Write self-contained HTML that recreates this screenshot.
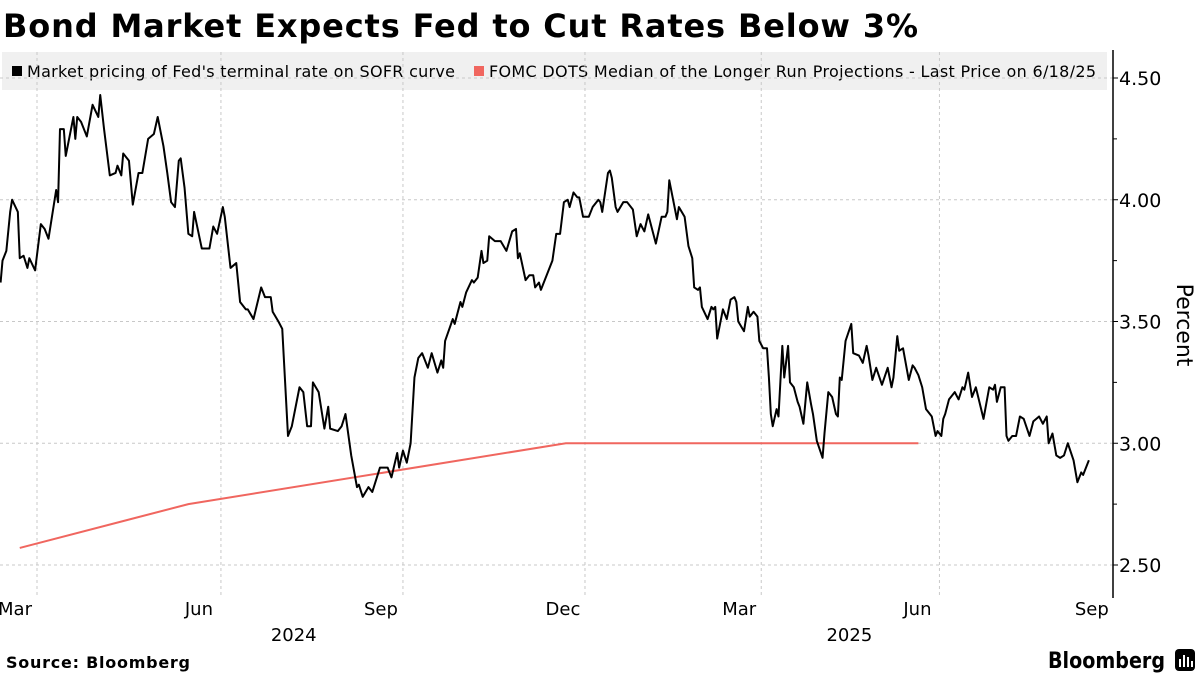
<!DOCTYPE html>
<html><head><meta charset="utf-8">
<style>
html,body{margin:0;padding:0;background:#fff;}
body{width:1200px;height:675px;overflow:hidden;font-family:"DejaVu Sans","Liberation Sans",sans-serif;}
svg text{font-family:"DejaVu Sans","Liberation Sans",sans-serif;}
</style></head>
<body>
<svg id="chart" width="1200" height="675" viewBox="0 0 1200 675" xmlns="http://www.w3.org/2000/svg">
<text x="3" y="37" font-size="32" font-weight="bold" fill="#000" textLength="915" lengthAdjust="spacing">Bond Market Expects Fed to Cut Rates Below 3%</text>
<rect x="2" y="52" width="1105" height="38" fill="#f0f0f0"/>
<g>
<rect x="12" y="66" width="10" height="10" fill="#000"/>
<text x="27" y="77" font-size="16" fill="#000" textLength="428" lengthAdjust="spacing">Market pricing of Fed's terminal rate on SOFR curve</text>
</g>
<g>
<rect x="474" y="66" width="10" height="10" fill="#f0665f"/>
<text x="489" y="77" font-size="16" fill="#000" textLength="607" lengthAdjust="spacing">FOMC DOTS Median of the Longer Run Projections - Last Price on 6/18/25</text>
</g>
<g id="grid"></g>
<g id="series"></g>
<g id="axes"></g>
<text transform="translate(1177,325) rotate(90)" font-size="22" text-anchor="middle" fill="#000">Percent</text>
<text x="6" y="668" font-size="16" font-weight="bold" fill="#000" textLength="184" lengthAdjust="spacing">Source: Bloomberg</text>
<g>
<text x="1048" y="668" font-size="22" font-weight="bold" fill="#000" textLength="117" lengthAdjust="spacingAndGlyphs">Bloomberg</text>
<rect x="1175" y="649" width="20" height="22" rx="4" fill="#000"/>
<rect x="1179" y="659" width="2" height="8" fill="#fff"/><rect x="1183" y="655" width="2" height="12" fill="#fff"/><rect x="1187" y="657" width="2" height="10" fill="#fff"/><rect x="1191" y="661" width="2" height="6" fill="#fff"/>
</g>
</svg>
<script>
// SOFR terminal-rate series (day offset, percent)
const sofrDays = [-19,-18,-16,-14,-13,-10,-9,-7,-5,-4,-1,2,4,6,10,11,12,14,15,19,20,21,23,26,29,32,33,35,38,41,42,44,45,48,50,53,55,58,61,63,66,68,70,72,74,75,77,79,81,82,86,90,92,94,97,98,101,104,106,109,110,113,117,119,122,123,126,128,131,133,137,139,141,143,144,147,150,152,153,157,159,161,164,167,168,170,173,175,179,183,185,188,189,191,193,195,197,199,201,204,206,209,211,212,213,217,218,221,222,224,227,228,230,232,233,235,236,239,242,245,248,250,251,252,255,257,259,260,262,263,266,269,271,273,275,277,278,280,282,283,285,288,290,293,294,295,298,299,300,302,303,306,308,311,313,315,317,319,323,326,328,329,330,334,335,338,340,342,343,345,346,347,350,352,353,354,355,358,360,362,364,365,366,369,371,372,374,376,377,379,381,382,383,384,386,387,389,390,392,393,395,397,398,400,402,404,405,407,410,411,413,415,417,418,419,420,422,425,426,429,431,433,434,436,438,441,444,446,447,449,450,452,455,457,458,460,462,464,466,467,469,470,472,473,474,476,479,481,483,484,486,488,490,494,497,499,500,501,503,505,506,507,509,511,513,515,518,520,523,525,527,528,530,532,534,536,538,541,543,545,546,549];
const sofrValues = [3.66,3.75,3.79,3.95,4.00,3.95,3.76,3.77,3.72,3.76,3.71,3.90,3.88,3.84,4.04,3.99,4.29,4.29,4.18,4.34,4.25,4.34,4.32,4.26,4.39,4.34,4.43,4.29,4.10,4.11,4.14,4.10,4.19,4.16,3.98,4.11,4.11,4.25,4.27,4.34,4.22,4.11,3.99,3.97,4.16,4.17,4.05,3.86,3.85,3.95,3.80,3.80,3.89,3.86,3.97,3.93,3.72,3.74,3.58,3.55,3.55,3.51,3.64,3.60,3.60,3.54,3.50,3.47,3.03,3.07,3.23,3.21,3.07,3.07,3.25,3.21,3.06,3.15,3.06,3.05,3.07,3.12,2.95,2.82,2.83,2.78,2.82,2.80,2.90,2.90,2.86,2.96,2.90,2.97,2.92,3.00,3.27,3.35,3.37,3.31,3.37,3.29,3.34,3.31,3.42,3.51,3.49,3.58,3.56,3.62,3.67,3.66,3.68,3.79,3.74,3.75,3.85,3.83,3.83,3.79,3.87,3.88,3.76,3.78,3.67,3.69,3.69,3.64,3.66,3.63,3.69,3.75,3.86,3.86,3.99,4.00,3.97,4.03,4.01,4.01,3.93,3.93,3.97,4.00,3.99,3.95,4.11,4.12,4.09,3.97,3.95,3.99,3.99,3.96,3.85,3.90,3.87,3.94,3.82,3.93,3.93,3.95,4.08,3.92,3.97,3.93,3.81,3.76,3.64,3.63,3.64,3.56,3.51,3.56,3.55,3.56,3.43,3.55,3.51,3.59,3.60,3.58,3.50,3.46,3.56,3.52,3.54,3.52,3.42,3.39,3.39,3.27,3.12,3.07,3.14,3.11,3.40,3.27,3.40,3.25,3.23,3.17,3.15,3.08,3.25,3.16,3.12,3.01,2.94,3.04,3.21,3.19,3.12,3.11,3.27,3.26,3.42,3.49,3.37,3.36,3.33,3.40,3.36,3.26,3.31,3.24,3.31,3.23,3.27,3.44,3.38,3.39,3.26,3.32,3.31,3.28,3.23,3.14,3.12,3.11,3.03,3.05,3.03,3.10,3.12,3.18,3.21,3.18,3.23,3.22,3.29,3.19,3.23,3.10,3.23,3.22,3.24,3.17,3.23,3.23,3.03,3.01,3.03,3.03,3.11,3.10,3.03,3.09,3.11,3.08,3.11,3.00,3.04,2.95,2.94,2.95,3.00,2.93,2.84,2.88,2.87,2.93];
// FOMC dots median series
const fomcDays = [-9,79,276,460];
const fomcValues = [2.57,2.75,3.00,3.00];
// Axis ticks
const xTickDays = [0,96,191,286,378,471,562];
const xTickLabels = ["Mar","Jun","Sep","Dec","Mar","Jun","Sep"];
const yearLabels = ["2024","2025"];
const yearLabelDays = [134,424];
const yTicks = [2.5,3.0,3.5,4.0,4.5];
const yTickLabels = ["2.50","3.00","3.50","4.00","4.50"];
const yMinorTicks = [2.75,3.25,3.75,4.25];

const NS="http://www.w3.org/2000/svg";
const X0=37, PXD=1.916, YTOP=78, YBOT=565, VTOP=4.5, VBOT=2.5, AXISX=1113;
function xs(d){return X0+d*PXD;}
function ys(v){return YTOP+(VTOP-v)/(VTOP-VBOT)*(YBOT-YTOP);}
function mk(tag,attrs,parent){const e=document.createElementNS(NS,tag);for(const k in attrs)e.setAttribute(k,attrs[k]);parent.appendChild(e);return e;}
const grid=document.getElementById('grid'), series=document.getElementById('series'), axes=document.getElementById('axes');

yTicks.forEach((v,i)=>{
  const g=mk('line',{x1:0,x2:AXISX,y1:ys(v),y2:ys(v),stroke:'#c8c8c8','stroke-width':1,'stroke-dasharray':'3,3'},grid);
  
  
  const t=mk('line',{x1:AXISX,x2:AXISX+5,y1:ys(v),y2:ys(v),stroke:'#000','stroke-width':1},axes);
  
  
  const l=mk('text',{x:AXISX+6,y:ys(v)+7,'font-size':19,fill:'#000'},axes);
  l.textContent=yTickLabels[i];
  
  
});
yMinorTicks.forEach(v=>{
  const t=mk('line',{x1:AXISX,x2:AXISX+4,y1:ys(v),y2:ys(v),stroke:'#000','stroke-width':1},axes);
  
  
});
xTickDays.forEach((d,i)=>{
  const x=xs(d);
  if(i<xTickDays.length-1){
    const g=mk('line',{x1:x,x2:x,y1:52,y2:598,stroke:'#c8c8c8','stroke-width':1,'stroke-dasharray':'3,3'},grid);
    
    
  }
  const l=mk('text',{x:x-22,y:615,'font-size':18,fill:'#000','text-anchor':'middle'},axes);
  l.textContent=xTickLabels[i];
  
  
});
yearLabelDays.forEach((d,i)=>{
  const l=mk('text',{x:xs(d),y:641,'font-size':18,fill:'#000','text-anchor':'middle'},axes);
  l.textContent=yearLabels[i];
  
  
});
const ax=mk('line',{x1:AXISX,x2:AXISX,y1:50,y2:598,stroke:'#000','stroke-width':1.5},axes);



const fp=mk('polyline',{points:fomcDays.map((d,i)=>xs(d)+','+ys(fomcValues[i])).join(' '),fill:'none',stroke:'#f0665f','stroke-width':2},series);


const sp=mk('polyline',{points:sofrDays.map((d,i)=>xs(d)+','+ys(sofrValues[i])).join(' '),fill:'none',stroke:'#000','stroke-width':2,'stroke-linejoin':'round'},series);


</script>
</body></html>
